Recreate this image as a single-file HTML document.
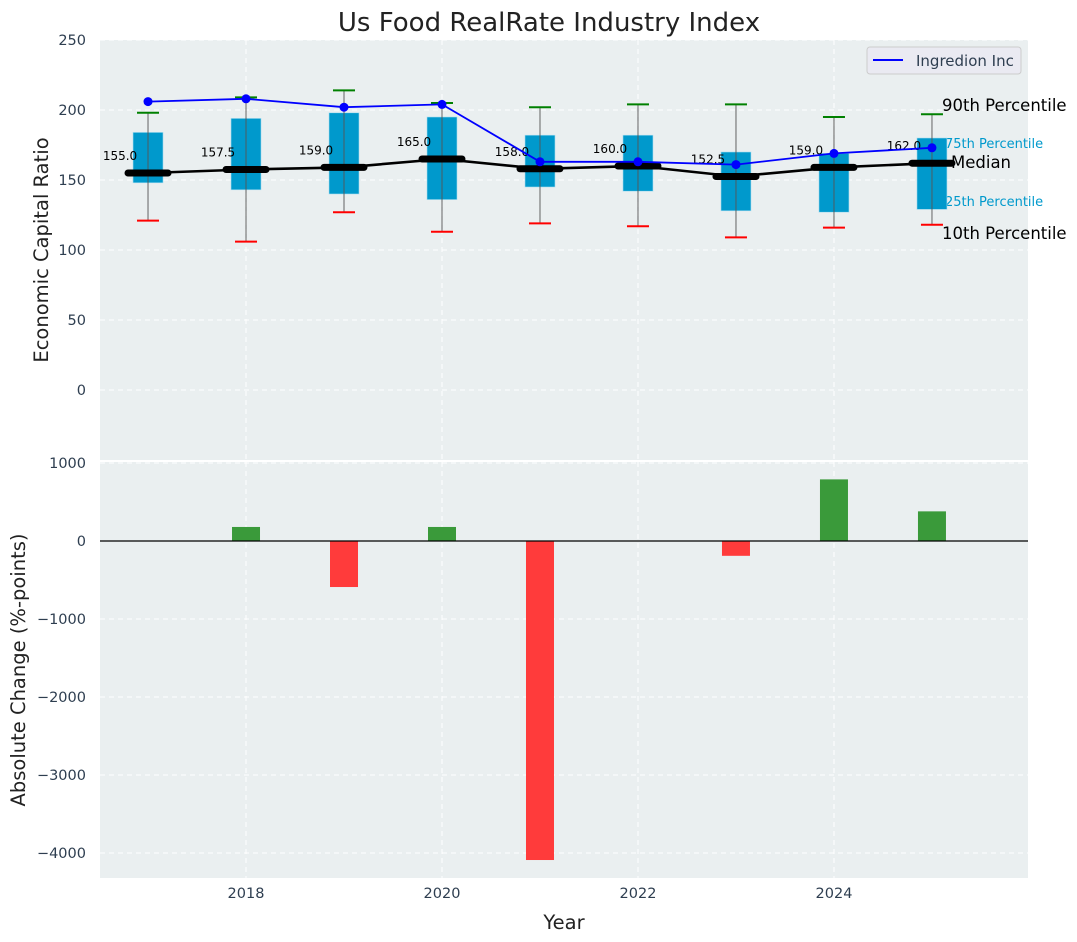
<!DOCTYPE html>
<html><head><meta charset="utf-8"><style>
body{margin:0;background:#fff;}
svg{display:block;font-family:"DejaVu Sans","Liberation Sans",sans-serif;}
</style></head><body>
<svg id="chart" width="1077" height="942" viewBox="0 0 1077 942"></svg>
<script>
const years=[2017,2018,2019,2020,2021,2022,2023,2024,2025];
const p10=[121,106,127,113,119,117,109,116,118];
const q1=[148,143,140,136,145,142,128,127,129];
const median=[155,157.5,159,165,158,160,152.5,159,162];
const q3=[184,194,198,195,182,182,170,169,180];
const p90=[198,209,214,205,202,204,204,195,197];
const company=[206,208,202,204,163,163,161,169,173];
const changeYears=[2018,2019,2020,2021,2023,2024,2025];
const changes=[180,-590,180,-4090,-190,790,380];
const topTicks=[0,50,100,150,200,250];
const botTicks=[-4000,-3000,-2000,-1000,0,1000];
const xTicks=[2018,2020,2022,2024];

const NS="http://www.w3.org/2000/svg";
const svg=document.getElementById('chart');
function el(tag,attrs,parent){const e=document.createElementNS(NS,tag);for(const k in attrs)e.setAttribute(k,attrs[k]);(parent||svg).appendChild(e);return e;}
const L=100,R=1028;
const x=v=>L+(v-2016.51)*(R-L)/(2025.98-2016.51);
const yT=v=>40+(250-v)*1.4;
const yB=v=>541-v*0.078;

let bg=el('rect',{x:L,y:40,width:R-L,height:420,fill:'#eaeff0'});


let bg2=el('rect',{x:L,y:462,width:R-L,height:416,fill:'#eaeff0'});



topTicks.forEach(t=>{
  el('line',{x1:L,x2:R,y1:yT(t),y2:yT(t),stroke:'#fff','stroke-dasharray':'5,4','stroke-width':1});
  const tx=el('text',{x:L-14,y:yT(t)+5,'text-anchor':'end','font-size':14.5,fill:'#2e3e50'});tx.textContent=t;
  
  
});
botTicks.forEach(t=>{
  el('line',{x1:L,x2:R,y1:yB(t),y2:yB(t),stroke:'#fff','stroke-dasharray':'5,4','stroke-width':1});
  const tx=el('text',{x:L-14,y:yB(t)+5,'text-anchor':'end','font-size':14.5,fill:'#2e3e50'});tx.textContent=(t<0?'\u2212'+(-t):t);
  
  
});
xTicks.forEach(t=>{
  el('line',{x1:x(t),x2:x(t),y1:40,y2:460,stroke:'#fff','stroke-dasharray':'5,4'});
  el('line',{x1:x(t),x2:x(t),y1:462,y2:878,stroke:'#fff','stroke-dasharray':'5,4'});
  const tx=el('text',{x:x(t),y:898,'text-anchor':'middle','font-size':14.5,fill:'#2e3e50'});tx.textContent=t;
  
  
});

const ann=[['90th Percentile',111,16.5,'#000',942],['75th Percentile',148,13,'#0099cc',945],['25th Percentile',206,13,'#0099cc',945],['10th Percentile',239,16.5,'#000',942]];
ann.forEach(a=>{const t=el('text',{x:a[4],y:a[1],'font-size':a[2],fill:a[3]});t.textContent=a[0];
  
  });

years.forEach((yr,i)=>{
  const cx=x(yr);
  const g=el('g',{});
  
  
  el('rect',{x:cx-15,y:yT(q3[i]),width:30,height:yT(q1[i])-yT(q3[i]),fill:'#0099cc',stroke:'#a8dcef','stroke-width':0.6},g);
  el('line',{x1:cx,x2:cx,y1:yT(p10[i]),y2:yT(p90[i]),stroke:'#555','stroke-opacity':0.7,'stroke-width':1.3},g);
  el('line',{x1:cx-11,x2:cx+11,y1:yT(p10[i]),y2:yT(p10[i]),stroke:'red','stroke-width':2},g);
  el('line',{x1:cx-11,x2:cx+11,y1:yT(p90[i]),y2:yT(p90[i]),stroke:'green','stroke-width':2},g);
});
let mp=years.map((yr,i)=>x(yr)+','+yT(median[i])).join(' ');
let ml=el('polyline',{points:mp,fill:'none',stroke:'#000','stroke-width':2.6});


years.forEach((yr,i)=>{
  const m=el('line',{x1:x(yr)-20,x2:x(yr)+20,y1:yT(median[i]),y2:yT(median[i]),stroke:'#000','stroke-width':7,'stroke-linecap':'round'});
  
  
  const t=el('text',{x:x(yr)-28,y:yT(median[i])-13,'text-anchor':'middle','font-size':12,fill:'#000'});t.textContent=median[i].toFixed(1);
  
  
});
let cp=years.map((yr,i)=>x(yr)+','+yT(company[i])).join(' ');
let cl=el('polyline',{points:cp,fill:'none',stroke:'blue','stroke-width':1.8});


years.forEach((yr,i)=>{const c=el('circle',{cx:x(yr),cy:yT(company[i]),r:4.5,fill:'blue'});
  
  });
let med=el('text',{x:951,y:168,'font-size':16.5,fill:'#000'});med.textContent='Median';



const lg=el('g',{});


el('rect',{x:867,y:47,width:154,height:27,rx:3,fill:'#eaeaf2',stroke:'#ccc'},lg);
el('line',{x1:873,x2:903,y1:60,y2:60,stroke:'blue','stroke-width':2},lg);
const lt=el('text',{x:916,y:66,'font-size':15,fill:'#2e3e50'},lg);lt.textContent='Ingredion Inc';

changeYears.forEach((yr,i)=>{
  const v=changes[i];
  const b=el('rect',{x:x(yr)-14,y:Math.min(yB(v),yB(0)),width:28,height:Math.abs(yB(v)-yB(0)),fill:v>=0?'#3a9a3a':'#ff3b3b'});
  
  
});
el('line',{x1:L,x2:R,y1:yB(0),y2:yB(0),stroke:'#000','stroke-width':1.2});

const title=el('text',{x:549,y:31,'text-anchor':'middle','font-size':26,fill:'#222'});title.textContent='Us Food RealRate Industry Index';


const ya=el('text',{x:0,y:0,'text-anchor':'middle','font-size':19.5,fill:'#222',transform:'translate(48,250) rotate(-90)'});ya.textContent='Economic Capital Ratio';


const yb=el('text',{x:0,y:0,'text-anchor':'middle','font-size':19.5,fill:'#222',transform:'translate(25,670) rotate(-90)'});yb.textContent='Absolute Change (%-points)';


const xa=el('text',{x:564,y:929,'text-anchor':'middle','font-size':19.5,fill:'#222'});xa.textContent='Year';


</script>
</body></html>
